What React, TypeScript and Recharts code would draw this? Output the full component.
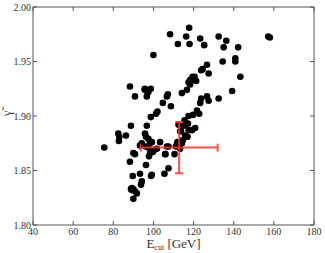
import { ScatterChart, Scatter, XAxis, YAxis, ErrorBar } from "recharts"

// E_cut [GeV] and gamma~ for each sample
const ecut = [
    75.5, 88.3, 90.8, 100, 108.3, 112.2, 117.8, 116.3, 118, 123.3,
    125.3, 132.5, 136.3, 135, 142.2, 140.8, 140.8, 134.5, 143.3, 139.2,
    132.5, 157.2, 158, 126.7, 127.5, 124.5, 123.8, 120.5, 119.5, 118.3,
    117.5, 118.3, 121.3, 116.7, 114.2, 126.7, 123.8, 127.5, 123.3, 121.7,
    122.8, 119.7, 117.5, 115.5, 117.2, 120.8, 117.5, 115, 115.8, 114.7,
    119.2, 112.5, 113.3, 112, 111.7, 113.3, 110.5, 106.7, 107.2, 108.7,
    104.7, 102, 101.3, 98.7, 95.7, 96.7, 98.7, 97.5, 96.7, 95.7,
    88.8, 82.5, 83, 86.3, 82.8, 88.3, 90, 90.8, 93.3, 94.2,
    95.8, 96.7, 96.3, 97.5, 98.3, 96.2, 97.5, 99.2, 99.7, 98.3,
    97.8, 100.5, 101.7, 103.3, 106.7, 105.8, 106, 96.3, 99.2, 98.8,
    105.5, 107.5, 93.3, 94.2, 93.8, 89.7, 89.2, 89.2, 90, 90.8,
    91.7, 90, 88.8, 113.7, 114.2, 117, 115.8, 111.2, 107.5,
]
const gamma = [
    1.871, 1.927, 1.918, 1.956, 1.975, 1.966, 1.981, 1.973, 1.966, 1.971,
    1.965, 1.973, 1.969, 1.963, 1.963, 1.953, 1.95, 1.95, 1.936, 1.923,
    1.916, 1.973, 1.972, 1.947, 1.939, 1.943, 1.942, 1.936, 1.936, 1.933,
    1.931, 1.929, 1.932, 1.924, 1.921, 1.918, 1.916, 1.914, 1.912, 1.905,
    1.902, 1.901, 1.9, 1.896, 1.893, 1.889, 1.887, 1.891, 1.882, 1.878,
    1.887, 1.892, 1.886, 1.876, 1.874, 1.87, 1.865, 1.918, 1.92, 1.909,
    1.912, 1.904, 1.902, 1.899, 1.925, 1.923, 1.925, 1.922, 1.918, 1.924,
    1.891, 1.884, 1.881, 1.882, 1.877, 1.858, 1.866, 1.865, 1.873, 1.875,
    1.884, 1.891, 1.881, 1.879, 1.875, 1.872, 1.871, 1.876, 1.867, 1.866,
    1.863, 1.869, 1.87, 1.876, 1.872, 1.865, 1.865, 1.855, 1.846, 1.845,
    1.847, 1.852, 1.847, 1.84, 1.837, 1.845, 1.834, 1.832, 1.833, 1.831,
    1.829, 1.824, 1.833, 1.886, 1.875, 1.881, 1.893, 1.872, 1.872,
]

// mean value with its spread (red cross)
const meanEcut = 112.8
const meanGamma = 1.871
const errEcut = 19.2
const errGamma = 0.0235

const xTicks = [40, 60, 80, 100, 120, 140, 160, 180]
const yTicks = [1.8, 1.85, 1.9, 1.95, 2.0]

const points = ecut.map((x, i) => ({ x, y: gamma[i] }))
const meanPoint = [{ x: meanEcut, y: meanGamma, ex: errEcut, ey: errGamma }]

const font = "'Liberation Serif', 'DejaVu Serif', serif"
const frame = "#555"
const tickStyle = { fontSize: 10, fill: "#333", fontFamily: font }

const Dot = (p: any) => <circle cx={p.cx} cy={p.cy} r={3.3} fill="#000" />
const NoDot = () => <g />

const XLabel = (p: any) => {
    const vb = p.viewBox
    return (
        <text x={vb.x + vb.width / 2} y={253 - 5} textAnchor="middle" fontFamily={font} fontSize={13} fill="#333">
            E<tspan fontSize={8} dy={2}>cut</tspan><tspan dy={-2}> [GeV]</tspan>
        </text>
    )
}

export default function App() {
    return (
        <div style={{ position: "absolute", left: 0, top: 0, background: "#fff" }}>
            <ScatterChart width={325} height={253} margin={{ top: 6, right: 10, bottom: 0, left: 0 }}>
                <XAxis
                    type="number"
                    dataKey="x"
                    domain={[40, 180]}
                    ticks={xTicks}
                    height={28}
                    stroke={frame}
                    tickSize={-4}
                    tickMargin={7}
                    tick={tickStyle}
                    label={<XLabel />}
                />
                <XAxis
                    xAxisId="top"
                    orientation="top"
                    type="number"
                    dataKey="x"
                    domain={[40, 180]}
                    ticks={xTicks}
                    height={1}
                    stroke={frame}
                    tickSize={-4}
                    tickFormatter={() => ""}
                />
                <YAxis
                    type="number"
                    dataKey="y"
                    domain={[1.8, 2.0]}
                    ticks={yTicks}
                    width={33}
                    stroke={frame}
                    tickSize={-4}
                    tickMargin={6}
                    tick={tickStyle}
                    tickFormatter={(v: number) => v.toFixed(2)}
                    label={{ value: "γ̃", angle: -90, position: "insideLeft", offset: 7, style: { fontFamily: font, fontSize: 12, fill: "#333" } }}
                />
                <YAxis
                    yAxisId="right"
                    orientation="right"
                    type="number"
                    dataKey="y"
                    domain={[1.8, 2.0]}
                    ticks={yTicks}
                    width={1}
                    stroke={frame}
                    tickSize={-4}
                    tickFormatter={() => ""}
                />
                <Scatter data={points} shape={Dot} isAnimationActive={false} />
                <Scatter data={meanPoint} xAxisId="top" yAxisId="right" shape={NoDot} isAnimationActive={false}>
                    <ErrorBar dataKey="ex" direction="x" width={4} stroke="#ff3333" strokeWidth={2} strokeOpacity={0.85} zIndex={2000} />
                    <ErrorBar dataKey="ey" direction="y" width={4} stroke="#ff3333" strokeWidth={2} strokeOpacity={0.85} zIndex={2000} />
                </Scatter>
            </ScatterChart>
        </div>
    )
}
